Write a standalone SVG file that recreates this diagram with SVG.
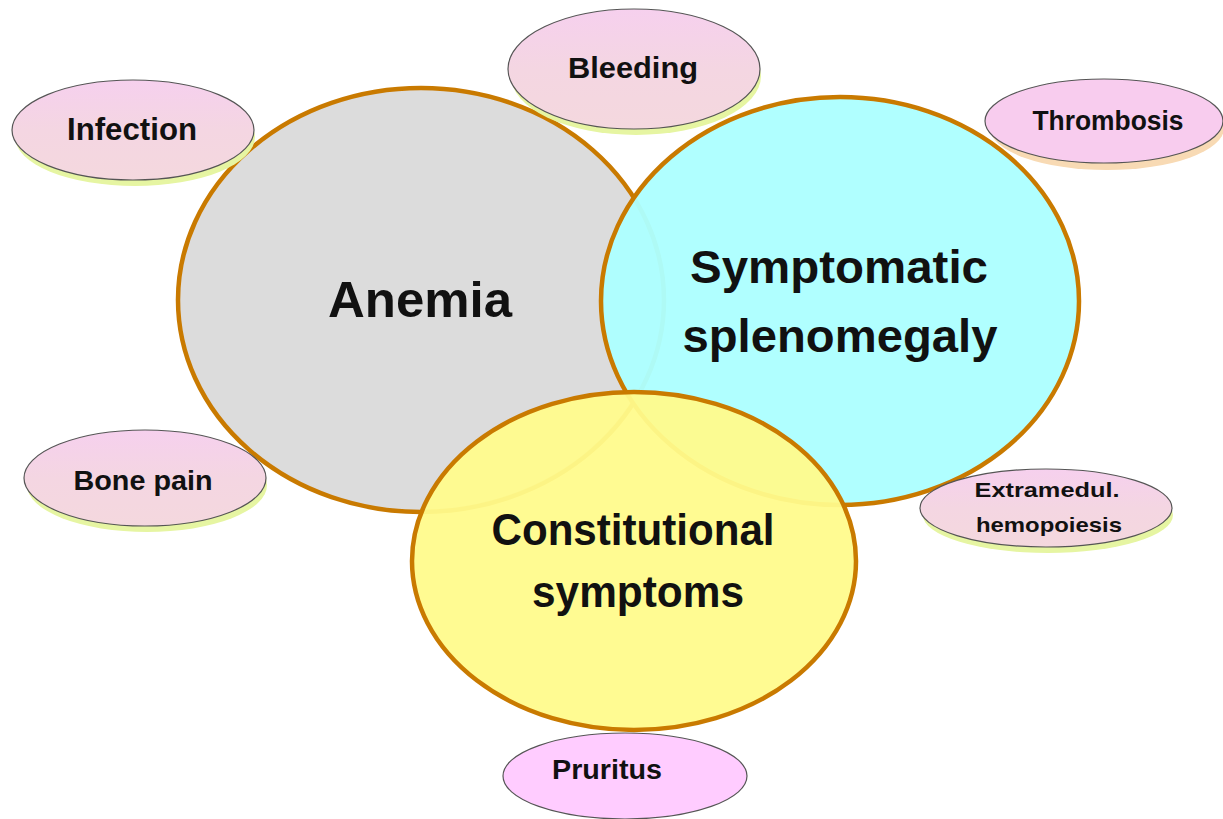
<svg xmlns="http://www.w3.org/2000/svg" width="1223" height="819" viewBox="0 0 1223 819">
<defs>
<linearGradient id="pinkG" x1="0" y1="0" x2="0" y2="1">
<stop offset="0" stop-color="#F6D0EE"/><stop offset="0.5" stop-color="#F4D6E2"/><stop offset="1" stop-color="#F4D8DE"/>
</linearGradient>
<style>
.big{stroke:#C97A00;stroke-width:4.5;}
.sm{fill:url(#pinkG);stroke:#555;stroke-width:1.2;}
.sh{fill:#E6F5A2;}
.lb{font-family:"Liberation Sans",Arial,sans-serif;font-weight:bold;fill:#111;text-anchor:middle;}
</style>
</defs>
<rect width="1223" height="819" fill="#fff"/>
<g id="anemia">
<ellipse class="big" cx="421" cy="300" rx="243" ry="212" fill="#DCDCDC"/>
<text class="lb" x="420" y="317" font-size="50" textLength="184" lengthAdjust="spacingAndGlyphs">Anemia</text>
</g>
<g id="splenomegaly">
<ellipse class="big" cx="840" cy="301" rx="239" ry="204" fill="#ADFFFF" fill-opacity="0.96"/>
<text class="lb" x="839" y="283" font-size="46" textLength="298" lengthAdjust="spacingAndGlyphs">Symptomatic</text>
<text class="lb" x="840" y="352" font-size="46" textLength="315" lengthAdjust="spacingAndGlyphs">splenomegaly</text>
</g>
<g id="constitutional">
<ellipse class="big" cx="634" cy="561" rx="222" ry="169" fill="#FFFB8C" fill-opacity="0.95"/>
<text class="lb" x="633" y="545" font-size="44" textLength="283" lengthAdjust="spacingAndGlyphs">Constitutional</text>
<text class="lb" x="638" y="607" font-size="44" textLength="212" lengthAdjust="spacingAndGlyphs">symptoms</text>
</g>
<g id="infection">
<ellipse class="sh" cx="135" cy="137" rx="120" ry="49"/>
<ellipse class="sm" cx="133" cy="130" rx="121" ry="50"/>
<text class="lb" x="132" y="140" font-size="32" textLength="130" lengthAdjust="spacingAndGlyphs">Infection</text>
</g>
<g id="bleeding">
<ellipse class="sh" cx="636" cy="76" rx="125" ry="59"/>
<ellipse class="sm" cx="634" cy="69" rx="126" ry="60"/>
<text class="lb" x="633" y="78" font-size="29" textLength="130" lengthAdjust="spacingAndGlyphs">Bleeding</text>
</g>
<g id="thrombosis">
<ellipse cx="1107" cy="128" rx="117" ry="42" fill="#F8DAB4"/>
<ellipse class="sm" cx="1104" cy="121" rx="119" ry="42" style="fill:#F8CCEE"/>
<text class="lb" x="1108" y="130" font-size="28" textLength="151" lengthAdjust="spacingAndGlyphs">Thrombosis</text>
</g>
<g id="bonepain">
<ellipse class="sh" cx="147" cy="485" rx="120" ry="47"/>
<ellipse class="sm" cx="145" cy="478" rx="121" ry="48"/>
<text class="lb" x="143" y="490" font-size="28" textLength="139" lengthAdjust="spacingAndGlyphs">Bone pain</text>
</g>
<g id="extramedul">
<ellipse class="sh" cx="1048" cy="515" rx="125" ry="38"/>
<ellipse class="sm" cx="1046" cy="508" rx="126" ry="39"/>
<text class="lb" x="1047" y="497" font-size="21" textLength="145" lengthAdjust="spacingAndGlyphs">Extramedul.</text>
<text class="lb" x="1049" y="532" font-size="21" textLength="146" lengthAdjust="spacingAndGlyphs">hemopoiesis</text>
</g>
<g id="pruritus">
<ellipse class="sm" cx="625" cy="776" rx="122" ry="43" style="fill:#FFCCFF"/>
<text class="lb" x="607" y="779" font-size="27" textLength="110" lengthAdjust="spacingAndGlyphs">Pruritus</text>
</g>
<g id="connectors"></g>
</svg>
